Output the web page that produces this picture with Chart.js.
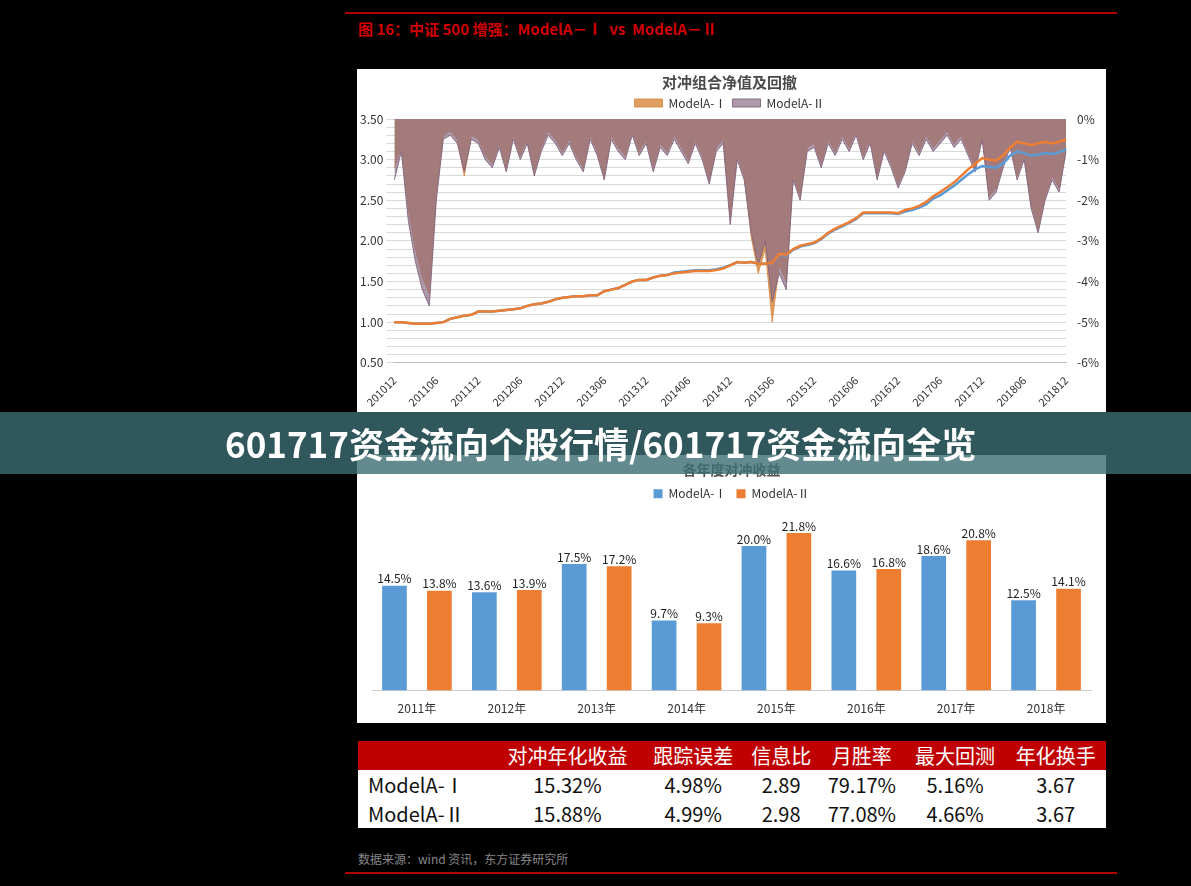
<!DOCTYPE html>
<html><head><meta charset="utf-8">
<script src="https://cdn.jsdelivr.net/npm/chart.js@4"></script>
<style>
body{margin:0;background:#000;width:1191px;height:886px;overflow:hidden;font-family:"Noto Sans CJK SC","Noto Sans",sans-serif;position:relative}
.abs{position:absolute}
#hdr{left:358px;top:18px;color:#d00000;font-weight:bold;font-size:15px}
.rl{left:345px;width:772px;height:2px;background:#b00000}
.pn{left:357px;width:749px;background:#fff}
#banner{left:0;top:412px;width:1191px;height:62px;background:rgba(60,110,115,0.8);color:#fff;font-weight:bold;font-size:35px;line-height:62px;padding-left:225px;box-sizing:border-box}
table{position:absolute;left:358px;top:741px;width:748px;border-collapse:collapse;background:#fff;font-size:20px;font-family:"Noto Sans CJK SC","Noto Sans",sans-serif}
th{background:#c00000;color:#fff;font-weight:normal;height:29px;padding:0}
td{height:29px;text-align:center;padding:0;color:#111}
td:first-child{text-align:left;padding-left:10px}
#src{left:358px;top:850px;color:#888;font-size:12px}
</style></head><body>
<div class="abs rl" style="top:12px"></div>
<div class="abs" id="hdr">图 16：中证 500 增强：ModelA－Ⅰ &nbsp;vs &nbsp;ModelA－Ⅱ</div>
<div class="abs pn" style="top:69px;height:343px"></div>
<div class="abs pn" style="top:455px;height:268px"></div>
<canvas id="c1" class="abs" style="left:357px;top:69px;width:749px;height:343px" width="749" height="343"></canvas>
<canvas id="c2" class="abs" style="left:357px;top:455px;width:749px;height:268px" width="749" height="268"></canvas>
<div class="abs" id="banner">601717资金流向个股行情/601717资金流向全览</div>
<table>
<tr><th></th><th>对冲年化收益</th><th>跟踪误差</th><th>信息比</th><th>月胜率</th><th>最大回测</th><th>年化换手</th></tr>
<tr><td>ModelA-Ⅰ</td><td>15.32%</td><td>4.98%</td><td>2.89</td><td>79.17%</td><td>5.16%</td><td>3.67</td></tr>
<tr><td>ModelA-Ⅱ</td><td>15.88%</td><td>4.99%</td><td>2.98</td><td>77.08%</td><td>4.66%</td><td>3.67</td></tr>
</table>
<div class="abs" id="src">数据来源：wind 资讯，东方证券研究所</div>
<div class="abs rl" style="top:872px"></div>
<script>
const months=[];for(let y=2010;y<=2018;y++)for(let m=1;m<=12;m++){if(y==2010&&m<12)continue;months.push(y+String(m).padStart(2,'0'));}
const navA1=[1.00,
1.00,0.99,0.98,0.98,0.98,0.99,1.00,1.04,1.06,1.08,1.09,1.13,
1.13,1.13,1.14,1.15,1.16,1.17,1.20,1.22,1.23,1.25,1.28,1.30,
1.31,1.32,1.32,1.33,1.33,1.38,1.40,1.42,1.46,1.50,1.52,1.52,
1.55,1.57,1.58,1.60,1.61,1.62,1.63,1.63,1.63,1.64,1.66,1.70,
1.74,1.73,1.74,1.72,1.72,1.73,1.84,1.83,1.90,1.94,1.96,1.98,
2.03,2.10,2.15,2.19,2.23,2.28,2.35,2.35,2.35,2.35,2.35,2.34,
2.38,2.40,2.43,2.48,2.55,2.60,2.66,2.72,2.80,2.88,2.95,3.02,
3.00,2.99,3.05,3.15,3.22,3.20,3.18,3.20,3.22,3.20,3.22,3.25];
const navA2=[1.00,
1.00,0.99,0.98,0.98,0.98,0.99,1.00,1.04,1.06,1.08,1.09,1.13,
1.13,1.13,1.14,1.15,1.16,1.17,1.20,1.22,1.23,1.25,1.28,1.30,
1.31,1.32,1.32,1.33,1.33,1.38,1.40,1.42,1.46,1.50,1.52,1.52,
1.55,1.57,1.58,1.61,1.62,1.63,1.64,1.64,1.64,1.65,1.67,1.70,
1.74,1.73,1.74,1.72,1.72,1.73,1.83,1.82,1.89,1.93,1.95,1.97,
2.02,2.09,2.14,2.18,2.22,2.27,2.34,2.34,2.34,2.34,2.34,2.33,
2.36,2.38,2.41,2.45,2.52,2.56,2.62,2.68,2.75,2.82,2.88,2.92,
2.91,2.90,2.95,3.05,3.10,3.08,3.05,3.06,3.08,3.07,3.09,3.13];
const ddA1=[-1.2,
-0.7,-2.2,-3.2,-3.9,-4.3,-1.8,-0.4,-0.3,-0.5,-1.4,-0.4,-0.5,
-0.9,-1.1,-0.6,-1.2,-0.4,-0.9,-0.5,-1.3,-0.7,-0.3,-0.5,-0.8,
-0.5,-0.9,-1.2,-0.4,-0.8,-1.4,-0.4,-0.7,-0.9,-0.3,-0.8,-0.5,
-1.2,-0.6,-0.8,-0.4,-0.7,-1.0,-0.5,-0.9,-1.5,-0.7,-0.5,-2.4,
-0.9,-1.4,-2.9,-3.8,-3.2,-5.0,-3.6,-4.0,-1.4,-1.9,-0.7,-0.6,
-1.1,-0.5,-0.8,-0.4,-0.7,-0.3,-0.9,-0.5,-1.4,-0.7,-1.1,-1.6,
-1.2,-0.5,-0.8,-0.4,-0.7,-0.5,-0.3,-0.6,-0.4,-0.8,-1.2,-0.4,
-1.9,-1.7,-1.1,-0.6,-1.4,-0.9,-2.1,-2.7,-1.9,-1.4,-1.7,-0.7];
const ddA2=[-1.5,
-0.8,-2.5,-3.5,-4.2,-4.6,-2.0,-0.5,-0.4,-0.6,-1.3,-0.5,-0.6,
-1.0,-1.2,-0.7,-1.3,-0.5,-1.0,-0.6,-1.4,-0.8,-0.4,-0.6,-0.9,
-0.6,-1.0,-1.3,-0.5,-0.9,-1.5,-0.5,-0.8,-1.0,-0.4,-0.9,-0.6,
-1.3,-0.7,-0.9,-0.5,-0.8,-1.1,-0.6,-1.0,-1.6,-0.8,-0.6,-2.6,
-1.0,-1.5,-2.8,-3.6,-3.0,-4.5,-3.8,-4.2,-1.5,-2.0,-0.8,-0.7,
-1.2,-0.6,-0.9,-0.5,-0.8,-0.4,-1.0,-0.6,-1.5,-0.8,-1.2,-1.7,
-1.3,-0.6,-0.9,-0.5,-0.8,-0.6,-0.4,-0.7,-0.5,-0.9,-1.3,-0.5,
-2.0,-1.8,-1.2,-0.7,-1.5,-1.0,-2.2,-2.8,-2.0,-1.5,-1.8,-0.8];
const years=['2011年','2012年','2013年','2014年','2015年','2016年','2017年','2018年'];
const retA1=[14.5,13.6,17.5,9.7,20.0,16.6,18.6,12.5];
const retA2=[13.8,13.9,17.2,9.3,21.8,16.8,20.8,14.1];
const F='"Noto Sans CJK SC","Noto Sans",sans-serif';
Chart.defaults.font.family=F;Chart.defaults.color='#444';
new Chart(document.getElementById('c1'),{type:'line',data:{labels:months,datasets:[
{label:'ModelA-Ⅰ',data:ddA1,yAxisID:'y2',borderColor:'rgba(217,140,70,0.9)',backgroundColor:'rgba(217,140,70,0.85)',fill:'end',pointRadius:0,borderWidth:1,tension:0,order:3},
{label:'ModelA-Ⅱ',data:ddA2,yAxisID:'y2',borderColor:'rgba(130,100,125,0.9)',backgroundColor:'rgba(140,110,135,0.7)',fill:'end',pointRadius:0,borderWidth:1,tension:0,order:2},
{label:'n2',data:navA2,yAxisID:'y',borderColor:'#5b9bd5',pointRadius:0,borderWidth:2.5,fill:false,order:1},
{label:'n1',data:navA1,yAxisID:'y',borderColor:'#ed7d31',pointRadius:0,borderWidth:2.5,fill:false,order:0}]},
options:{responsive:false,animation:false,layout:{padding:{left:0,right:4,bottom:0}},
plugins:{title:{display:true,text:'对冲组合净值及回撤',font:{size:15,weight:'bold'},color:'#4a4a4a',padding:{top:4,bottom:0}},
legend:{labels:{filter:i=>i.text.startsWith('Model'),sort:(a,b)=>a.datasetIndex-b.datasetIndex,boxWidth:28,boxHeight:8,padding:6,font:{size:12},color:'#333'}}},
scales:{x:{grid:{display:false},border:{color:'#bbb'},ticks:{autoSkip:false,maxRotation:45,minRotation:45,font:{size:11},color:'#333',callback:(v,i)=>i%6==0?months[i]:''}},
y:{min:0.5,max:3.5,ticks:{stepSize:0.1,autoSkip:false,font:{size:12},color:'#333',callback:v=>Math.abs(v*2-Math.round(v*2))<1e-6?v.toFixed(2):''},grid:{color:'#d9d9d9'},border:{display:false}},
y2:{position:'right',min:-6,max:0,ticks:{stepSize:1,font:{size:12},color:'#333',callback:v=>v+'%'},grid:{display:false},border:{display:false}}}}});
const lab={id:'lab',afterDatasetsDraw(c){const x=c.ctx;x.save();x.font='12px '+F;x.fillStyle='#222';x.textAlign='center';
c.data.datasets.forEach((d,i)=>c.getDatasetMeta(i).data.forEach((b,j)=>x.fillText(d.data[j].toFixed(1)+'%',b.x,b.y-7)));x.restore();}};
new Chart(document.getElementById('c2'),{type:'bar',data:{labels:years,datasets:[
{label:'ModelA-Ⅰ',data:retA1,backgroundColor:'#5b9bd5',barPercentage:0.55,categoryPercentage:1},
{label:'ModelA-Ⅱ',data:retA2,backgroundColor:'#ed7d31',barPercentage:0.55,categoryPercentage:1}]},
plugins:[lab],options:{responsive:false,animation:false,layout:{padding:{left:15,right:15,top:0,bottom:4}},
plugins:{title:{display:true,text:'各年度对冲收益',font:{size:14,weight:'bold'},color:'#555',padding:{top:6,bottom:0}},
legend:{labels:{boxWidth:9,boxHeight:9,font:{size:12},color:'#333'}}},
scales:{x:{grid:{display:false},border:{color:'#ccc'},ticks:{font:{size:12},color:'#333'}},
y:{display:false,min:0,max:25}}}});
</script></body></html>
